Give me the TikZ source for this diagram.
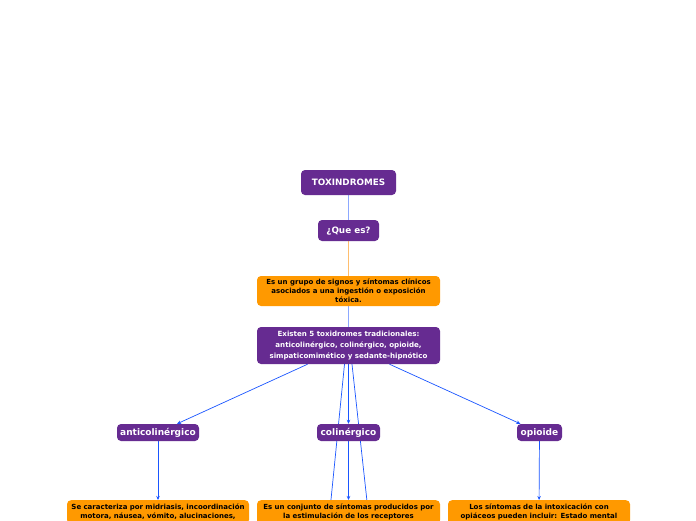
\documentclass[tikz,border=0pt]{standalone}
\usepackage{fontspec}
\setmainfont{DejaVu Sans}
\usepackage{tikz}
\usetikzlibrary{arrows.meta,backgrounds}
\definecolor{toxpurple}{RGB}{102,43,145}
\definecolor{toxorange}{RGB}{255,153,0}
\definecolor{toxblue}{RGB}{26,86,255}
\definecolor{toxlight}{RGB}{140,168,255}
\definecolor{toxpale}{RGB}{255,190,110}
\tikzset{
  purplebox/.style={fill=toxpurple,text=white,rounded corners=4pt,inner sep=0pt,align=center,font=\bfseries},
  orangebox/.style={fill=toxorange,text=black,rounded corners=4pt,inner sep=0pt,align=center,font=\bfseries\fontsize{7}{9}\selectfont},
  topicbox/.style={purplebox,minimum height=17pt,text height=7pt,text depth=2pt,font=\bfseries\fontsize{9}{11}\selectfont},
  branch/.style={draw=toxblue,line width=0.7pt,-{Stealth[length=4pt,width=3.5pt]}},
}
\begin{document}
\begin{tikzpicture}[x=1pt,y=1pt,yscale=-1,xscale=1]
\useasboundingbox (0,0) rectangle (696,520);

% Text Node
\node (tox) [purplebox,minimum width=95pt,minimum height=25pt,text height=7pt,text depth=1pt,font=\bfseries\fontsize{8.8}{10}\selectfont] at (348.5,182.5) {TOXINDROMES};
% Text Node
\node (que) [purplebox,minimum width=61pt,minimum height=21pt,text height=7pt,text depth=2pt,font=\bfseries\fontsize{8.8}{10}\selectfont] at (348.5,230.5) {¿Que es?};
% Text Node
\node (grupo) [orangebox,minimum width=183pt,minimum height=30pt] at (348.5,291) {Es un grupo de signos y síntomas clínicos\\asociados a una ingestión o exposición\\tóxica.};
% Text Node
\node (existen) [purplebox,minimum width=183pt,minimum height=37pt,font=\bfseries\fontsize{7.1}{11}\selectfont] at (348.5,345.5) {Existen 5 toxidromes tradicionales:\\anticolinérgico, colinérgico, opioide,\\simpaticomimético y sedante-hipnótico};

% Text Node
\node (anti) [topicbox,minimum width=82pt] at (158,432.5) {anticolinérgico};
% Text Node
\node (coli) [topicbox,minimum width=63pt] at (348.5,432.5) {colinérgico};
% Text Node
\node (opio) [topicbox,minimum width=45pt] at (539.5,432.5) {opioide};

% Text Node
\node (antitext) [orangebox,anchor=north,minimum width=182pt,text width=182pt,inner ysep=4pt] at (158,500) {Se caracteriza por midriasis, incoordinación\\motora, náusea, vómito, alucinaciones,\\ };
% Text Node
\node (colitext) [orangebox,anchor=north,minimum width=183pt,text width=183pt,inner ysep=4pt] at (348.5,500) {Es un conjunto de síntomas producidos por\\la estimulación de los receptores\\ };
% Text Node
\node (opiotext) [orangebox,anchor=north,minimum width=182pt,text width=182pt,inner ysep=4pt] at (539,500) {Los síntomas de la intoxicación con\\opiáceos pueden incluir: Estado mental\\ };

% further branches below the page
\coordinate (simpa) at (319,620);
\coordinate (seda) at (380,620);

\begin{pgfonlayer}{background}
\fill [white] (0,0) rectangle (696,520);
%Straight Lines
\draw [toxlight,line width=0.9pt] (tox) -- (que);
\draw [toxpale,line width=0.9pt] (que) -- (grupo);
\draw [toxlight,line width=0.9pt] (grupo) -- (existen);
%Straight Lines
\draw [branch] (existen) -- (anti);
\draw [branch] (existen) -- (coli);
\draw [branch] (existen) -- (opio);
\draw [draw=toxblue,line width=0.7pt] ([xshift=-4pt]existen.south) -- (simpa);
\draw [draw=toxblue,line width=0.7pt] ([xshift=3.5pt]existen.south) -- (seda);
%Straight Lines
\draw [branch] (anti) -- (antitext);
\draw [branch] (coli) -- (colitext);
\draw [branch] (opio) -- (opiotext);
\end{pgfonlayer}

\end{tikzpicture}
\end{document}
